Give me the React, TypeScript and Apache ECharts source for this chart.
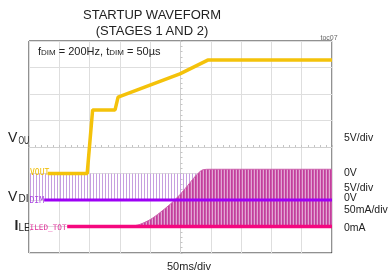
import React, { useEffect, useRef } from 'react';
import * as echarts from 'echarts';

// Scope settings (divisions)
const X_MIN_MS = 0;
const X_MAX_MS = 500;
const MS_PER_DIV = 50;
const VOUT_PER_DIV = 5; // V/div
const VOUT_ZERO_DIV = -1;
const DIM_PER_DIV = 5; // V/div
const DIM_ZERO_DIV = -2;
const ILED_PER_DIV = 50; // mA/div
const ILED_ZERO_DIV = -3;

// VOUT trace (ms, V)
const voutTimeMs = [31, 96, 105, 142, 147, 249, 295, 500];
const voutV = [0, 0, 12, 12, 14.4, 18.8, 21.4, 21.4];

// DIM trace baseline (ms, V) and pulse band top (ms, V)
const dimTimeMs = [25, 500];
const dimV = [0, 0];
const dimPulseTimeMs = [1, 500];
const dimPulseHighV = [5, 5];

// ILED_TOT baseline (ms, mA) and pulse envelope (ms, mA)
const iledTimeMs = [63, 500];
const iledMA = [0, 0];
const iledEnvTimeMs = [168, 183, 200, 216, 233, 249, 266, 277, 287, 299, 500];
const iledEnvMA = [0, 4, 13, 26, 42, 60, 83, 98, 107, 108, 108];

const rightLabels = ['5V/div', '0V', '5V/div', '0V', '50mA/div', '0mA'];
const rightLabelY = [137, 172, 186.5, 197, 209, 226.5];

const FONT = 'Liberation Sans, Arial, sans-serif';
const MONO = 'DejaVu Sans Mono, monospace';

const toDiv = (v: number, zero: number, per: number) => zero + v / per;
const pairs = (xs: number[], ys: number[], zero: number, per: number) =>
  xs.map((x, i) => [x, toDiv(ys[i], zero, per)]);

function stripePattern(cols: string[]) {
  const c = document.createElement('canvas');
  c.width = cols.length;
  c.height = 4;
  const ctx = c.getContext('2d')!;
  cols.forEach((col, i) => {
    if (col !== 'transparent') {
      ctx.fillStyle = col;
      ctx.fillRect(i, 0, 1, 4);
    }
  });
  return { image: c, repeat: 'repeat', imageWidth: cols.length, imageHeight: 4 } as any;
}

export default function App() {
  const ref = useRef<HTMLDivElement>(null);
  useEffect(() => {
    if (!ref.current) return;
    const chart = echarts.init(ref.current, null, { renderer: 'svg' });
    const pinkPattern = stripePattern(['#c23e9c', '#cc5aaa', '#e2a6d4']);
    const purplePattern = stripePattern(['#c79fe0', 'transparent', 'transparent']);

    const graphics: any[] = [
      { type: 'text', x: 152, y: 14, style: { text: 'STARTUP WAVEFORM', font: `13px ${FONT}`, fill: '#222', align: 'center', verticalAlign: 'middle' } },
      { type: 'text', x: 152, y: 30, style: { text: '(STAGES 1 AND 2)', font: `13px ${FONT}`, fill: '#222', align: 'center', verticalAlign: 'middle' } },
      { type: 'text', x: 329, y: 37, style: { text: 'toc07', font: `7px ${FONT}`, fill: '#666', align: 'center', verticalAlign: 'middle' } },
      {
        type: 'text', x: 38, y: 51, z: 100,
        style: {
          text: '{n|f}{s|DIM}{n| = 200Hz, t}{s|DIM}{n| = 50µs}',
          verticalAlign: 'middle',
          rich: {
            n: { fontSize: 11, fontFamily: FONT, fill: '#222', verticalAlign: 'bottom' },
            s: { fontSize: 8, fontFamily: FONT, fill: '#222', verticalAlign: 'bottom' },
          },
        },
      },
      { type: 'text', x: 189, y: 266, style: { text: '50ms/div', font: `11px ${FONT}`, fill: '#222', align: 'center', verticalAlign: 'middle' } },
      // left channel labels
      { type: 'text', x: 8, y: 137, style: { text: 'V', font: `14px ${FONT}`, fill: '#222', verticalAlign: 'middle' } },
      { type: 'text', x: 18.5, y: 141, scaleX: 0.72, originX: 0, originY: 0, style: { text: 'OU', font: `10px ${FONT}`, fill: '#222', verticalAlign: 'middle' } },
      { type: 'text', x: 8, y: 196, style: { text: 'V', font: `14px ${FONT}`, fill: '#222', verticalAlign: 'middle' } },
      { type: 'text', x: 18.5, y: 198.5, style: { text: 'DI', font: `10px ${FONT}`, fill: '#222', verticalAlign: 'middle' } },
      { type: 'text', x: 14.5, y: 225, style: { text: 'I', font: `bold 14px ${FONT}`, fill: '#222', verticalAlign: 'middle' } },
      { type: 'text', x: 18.5, y: 227, style: { text: 'LE', font: `10px ${FONT}`, fill: '#222', verticalAlign: 'middle' } },
      // trace tags
      { type: 'text', x: 30, y: 172, z: 100, style: { text: 'VOUT', font: `8px ${MONO}`, fill: '#f0bc00', verticalAlign: 'middle' } },
      { type: 'text', x: 29.5, y: 200.5, z: 100, style: { text: 'DIM', font: `8px ${MONO}`, fill: '#a844e0', verticalAlign: 'middle' } },
      { type: 'text', x: 29.5, y: 227, z: 100, style: { text: 'ILED_TOT', font: `7.7px ${MONO}`, fill: '#e0309a', verticalAlign: 'middle' } },
    ];
    rightLabels.forEach((t, i) => {
      graphics.push({ type: 'text', x: 344, y: rightLabelY[i], style: { text: t, font: `10.5px ${FONT}`, lineHeight: 9, fill: '#222', verticalAlign: 'middle' } });
    });

    chart.setOption({
      animation: false,
      grid: { left: 29, top: 41, width: 303, height: 212, show: true, borderColor: '#222', borderWidth: 1, backgroundColor: '#fff' },
      xAxis: {
        type: 'value', min: X_MIN_MS, max: X_MAX_MS, interval: MS_PER_DIV,
        axisLabel: { show: false },
        axisLine: { show: true, onZero: true, lineStyle: { color: '#d0d0d0', width: 1 } },
        axisTick: { show: true, inside: true, length: 2, lineStyle: { color: '#c4c4c4' } },
        minorTick: { show: true, splitNumber: 5, length: 2, lineStyle: { color: '#c4c4c4' } },
        splitLine: { show: true, lineStyle: { color: '#dedede', width: 1 } },
      },
      yAxis: [
        {
          type: 'value', min: -4, max: 4, interval: 1,
          axisLabel: { show: false },
          axisLine: { show: false },
          axisTick: { show: false },
          splitLine: { show: true, lineStyle: { color: '#dedede', width: 1 } },
        },
        {
          type: 'value', min: -4, max: 4, interval: 1, position: 'left', offset: -151.5,
          axisLabel: { show: false },
          axisLine: { show: true, onZero: false, lineStyle: { color: '#d0d0d0', width: 1 } },
          axisTick: { show: true, inside: true, length: 2, lineStyle: { color: '#c4c4c4' } },
          minorTick: { show: true, splitNumber: 5, length: 2, lineStyle: { color: '#c4c4c4' } },
          splitLine: { show: false },
        },
      ],
      graphic: graphics,
      series: [
        {
          type: 'line', name: 'DIM pulses', silent: true, symbol: 'none', z: 1,
          data: pairs(dimPulseTimeMs, dimPulseHighV, DIM_ZERO_DIV, DIM_PER_DIV),
          lineStyle: { width: 0, opacity: 0 },
          areaStyle: { color: purplePattern, origin: DIM_ZERO_DIV, opacity: 1 },
        },
        {
          type: 'line', name: 'ILED pulses', silent: true, symbol: 'none', z: 2, smooth: 0.3,
          data: pairs(iledEnvTimeMs, iledEnvMA, ILED_ZERO_DIV, ILED_PER_DIV),
          lineStyle: { width: 1, color: '#cc60ac' },
          areaStyle: { color: pinkPattern, origin: ILED_ZERO_DIV, opacity: 1 },
        },
        {
          type: 'line', name: 'VOUT', silent: true, symbol: 'none', z: 4,
          data: pairs(voutTimeMs, voutV, VOUT_ZERO_DIV, VOUT_PER_DIV),
          lineStyle: { width: 3.5, color: '#f4c20a' },
        },
        {
          type: 'line', name: 'DIM', silent: true, symbol: 'none', z: 4,
          data: pairs(dimTimeMs, dimV, DIM_ZERO_DIV, DIM_PER_DIV),
          lineStyle: { width: 3, color: '#9d00f5' },
        },
        {
          type: 'line', name: 'ILED_TOT', silent: true, symbol: 'none', z: 4,
          data: pairs(iledTimeMs, iledMA, ILED_ZERO_DIV, ILED_PER_DIV),
          lineStyle: { width: 3.5, color: '#f5087f' },
        },
      ],
    });
    return () => chart.dispose();
  }, []);
  return <div ref={ref} style={{ position: 'fixed', left: 0, top: 0, width: 392, height: 277 }} />;
}
